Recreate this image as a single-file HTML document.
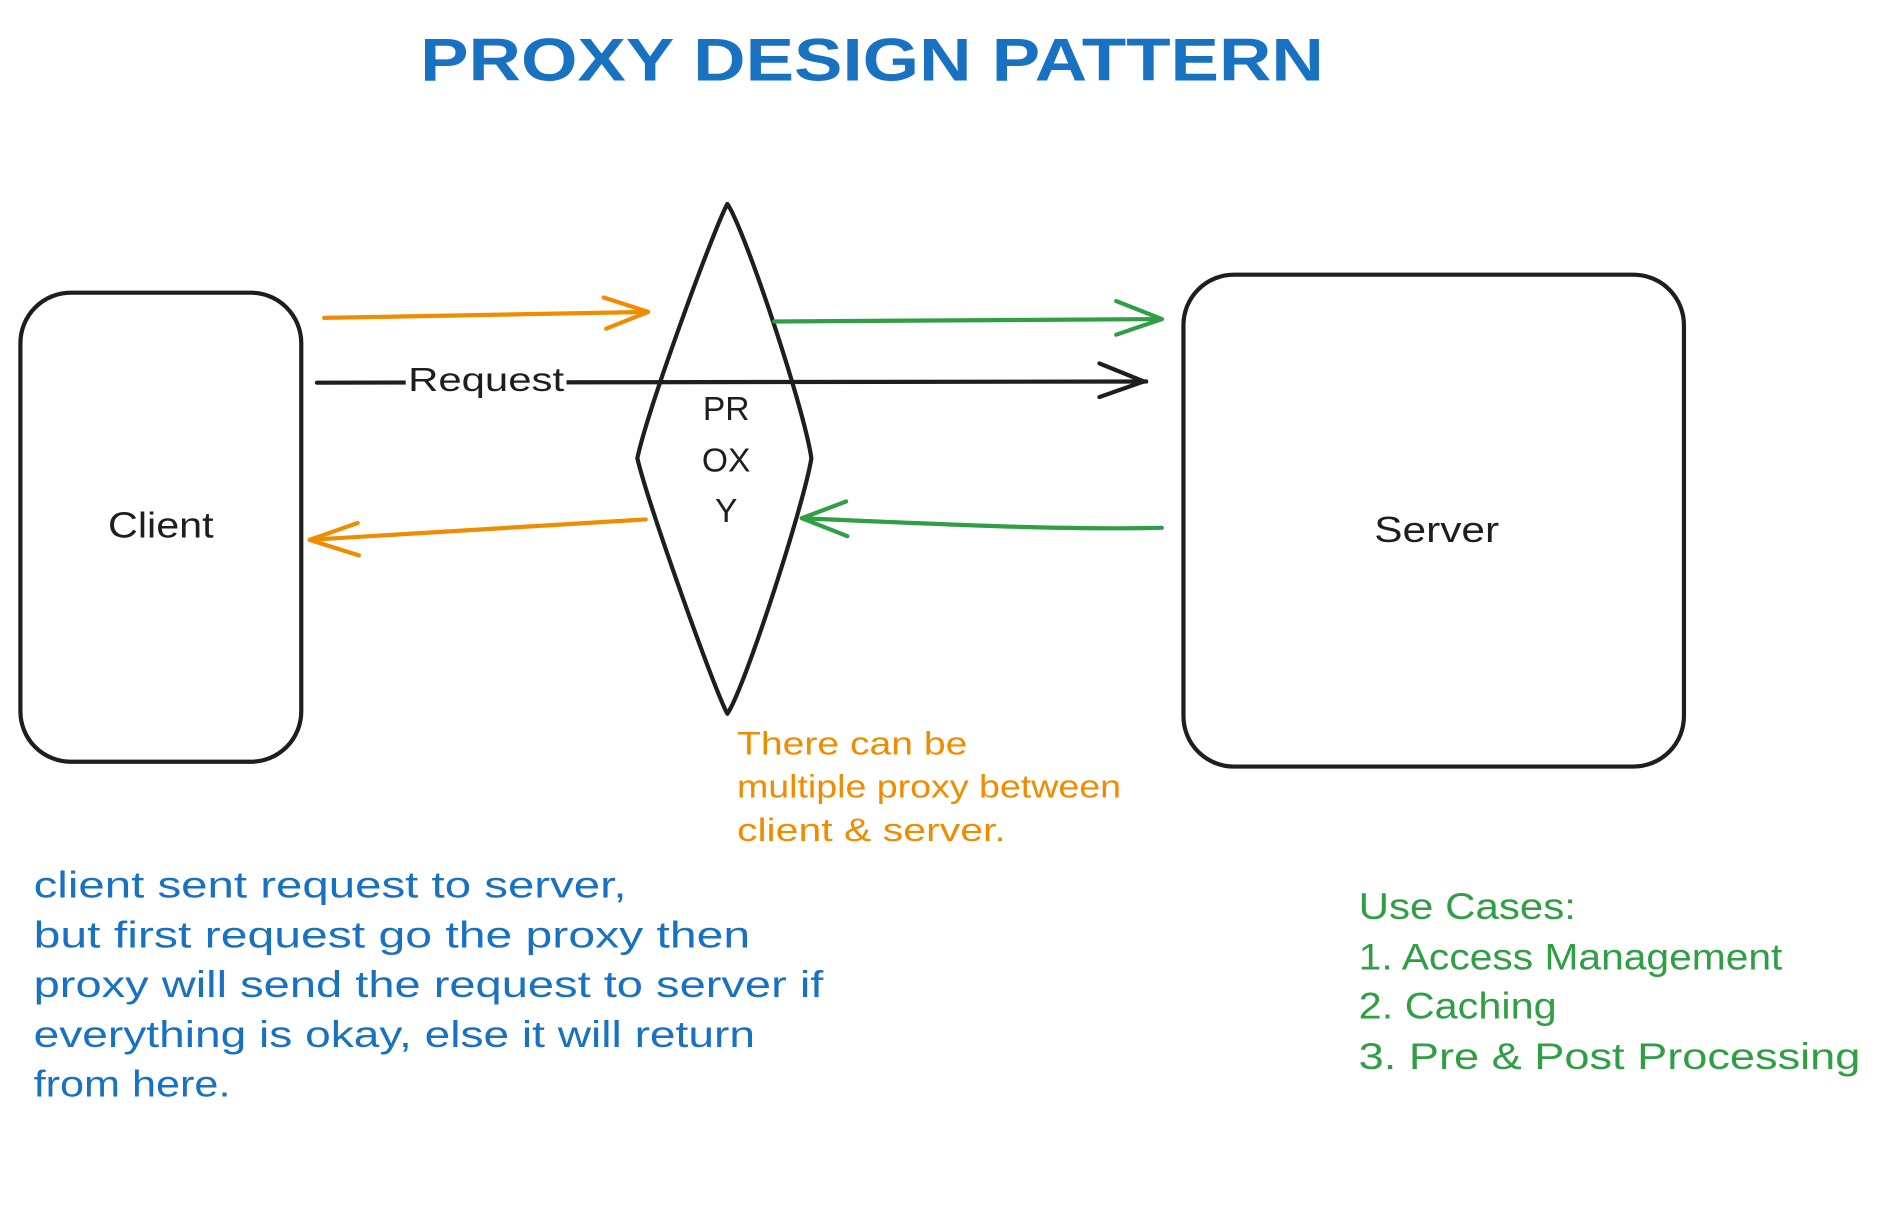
<!DOCTYPE html>
<html><head><meta charset="utf-8"><style>
html,body{margin:0;padding:0;background:#fff;}
svg{display:block;}
text{font-family:"Liberation Sans",sans-serif;}
</style></head><body>
<svg width="1882" height="1232" viewBox="0 0 1568 1027" preserveAspectRatio="none" xmlns="http://www.w3.org/2000/svg">
<rect width="1568" height="1027" fill="#fff"/>
<text x="350" y="67" textLength="753" lengthAdjust="spacingAndGlyphs" font-size="50" fill="#1971c2" font-weight="bold">PROXY DESIGN PATTERN</text>
<g fill="none" stroke="#1e1e1e" stroke-width="3.5" stroke-linecap="round" stroke-linejoin="round">
<rect x="17" y="244" width="234" height="391" rx="42"/>
<rect x="986" y="229" width="417" height="410" rx="42"/>
<path d="M606 170 C620 190 670 340 676 382 C670 420 620 575 606 595 C595 575 540 420 531 382 C540 340 595 190 606 170 Z"/>
<path d="M264 319 L955 318" stroke-width="3.5"/>
<path d="M916 303 L953 318 L916 331"/>
</g>
<rect x="338" y="300" width="134" height="34" fill="#fff"/>
<text x="340" y="326" textLength="130" lengthAdjust="spacingAndGlyphs" font-size="28" fill="#1e1e1e">Request</text>
<g fill="none" stroke="#f08c00" stroke-width="3.5" stroke-linecap="round" stroke-linejoin="round">
<path d="M270 265 L540 260"/><path d="M503 248 L540 260 L505 274"/>
<path d="M538 433 L258 450"/><path d="M298 436 L258 450 L299 463"/>
</g>
<g fill="none" stroke="#2f9e44" stroke-width="3.5" stroke-linecap="round" stroke-linejoin="round">
<path d="M645 268 L968 266"/><path d="M930 251 L968 266 L930 279"/>
<path d="M968 440 C880 442 760 436 668 432"/><path d="M705 418 L668 432 L706 447"/>
</g>
<g font-size="28" fill="#1e1e1e" text-anchor="middle">
<text x="605" y="350">PR</text><text x="605" y="393">OX</text><text x="605" y="435">Y</text>
</g>
<g font-size="30" fill="#1e1e1e">
<text x="90" y="448" textLength="88" lengthAdjust="spacingAndGlyphs">Client</text>
<text x="1145" y="452" textLength="104" lengthAdjust="spacingAndGlyphs">Server</text>
</g>
<g font-size="27" fill="#f08c00" lengthAdjust="spacingAndGlyphs">
<text x="614" y="629" textLength="192" lengthAdjust="spacingAndGlyphs">There can be</text>
<text x="614" y="665" textLength="320" lengthAdjust="spacingAndGlyphs">multiple proxy between</text>
<text x="614" y="701" textLength="224" lengthAdjust="spacingAndGlyphs">client &amp; server.</text>
</g>
<g font-size="31" fill="#1971c2">
<text x="28" y="748" textLength="494" lengthAdjust="spacingAndGlyphs">client sent request to server,</text>
<text x="28" y="790" textLength="597" lengthAdjust="spacingAndGlyphs">but first request go the proxy then</text>
<text x="28" y="831" textLength="658" lengthAdjust="spacingAndGlyphs">proxy will send the request to server if</text>
<text x="28" y="873" textLength="601" lengthAdjust="spacingAndGlyphs">everything is okay, else it will return</text>
<text x="28" y="914" textLength="164" lengthAdjust="spacingAndGlyphs">from here.</text>
</g>
<g font-size="31" fill="#2f9e44">
<text x="1132" y="766" textLength="181" lengthAdjust="spacingAndGlyphs">Use Cases:</text>
<text x="1132" y="808" textLength="353" lengthAdjust="spacingAndGlyphs">1. Access Management</text>
<text x="1132" y="849" textLength="165" lengthAdjust="spacingAndGlyphs">2. Caching</text>
<text x="1132" y="891" textLength="418" lengthAdjust="spacingAndGlyphs">3. Pre &amp; Post Processing</text>
</g>
</svg>
</body></html>
